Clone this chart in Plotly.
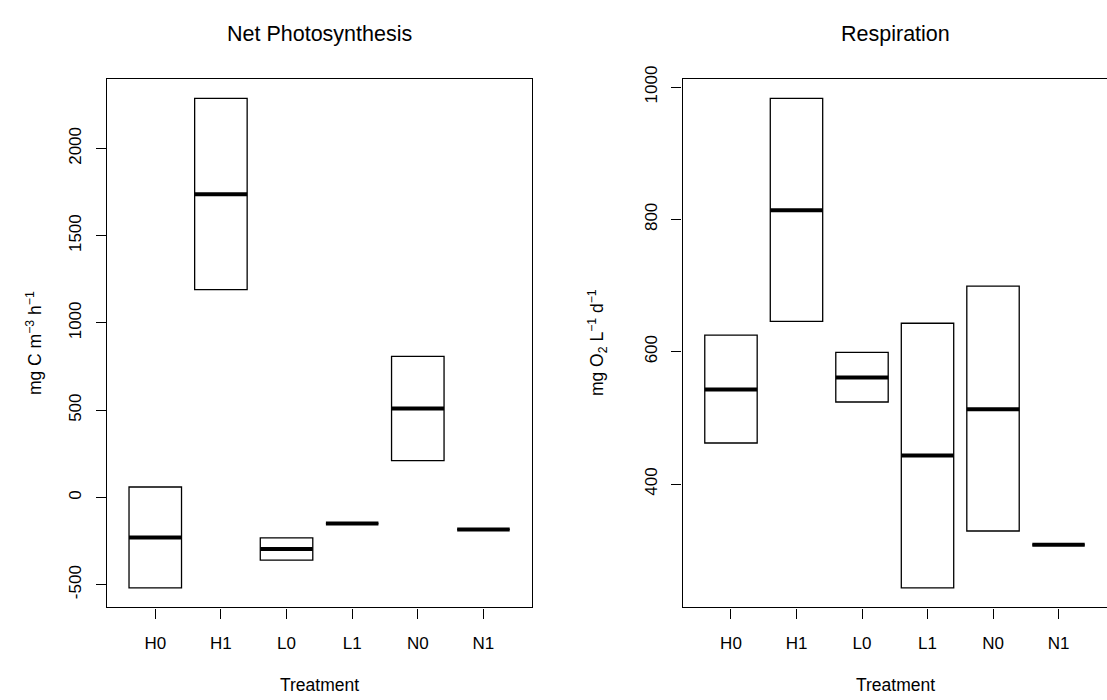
import plotly.graph_objects as go

# Treatments and box statistics (low / median / high) per panel
treatments = ["H0", "H1", "L0", "L1", "N0", "N1"]

photo_low = [-518, 1191, -359, -149, 211, -183]
photo_median = [-229, 1737, -295, -149, 510, -183]
photo_high = [60, 2287, -231, -149, 809, -183]

resp_low = [462, 646, 524, 243, 329, 308]
resp_median = [543, 814, 561, 443, 513, 308]
resp_high = [625, 983, 599, 643, 699, 308]

photo_ticks = [-500, 0, 500, 1000, 1500, 2000]
resp_ticks = [400, 600, 800, 1000]

W, H = 1107, 700
FONT = "Liberation Sans, Arial, Helvetica, sans-serif"
BOX_W = 0.8
positions = list(range(1, len(treatments) + 1))


def padded(lo, hi, frac=0.04):
    span = hi - lo
    return [lo - frac * span, hi + frac * span]


def tick_text(vals):
    # plain hyphen for negatives, as in base graphics
    return [str(v) for v in vals]


def median_segments(meds):
    xs, ys = [], []
    for p, m in zip(positions, meds):
        xs += [p - BOX_W / 2, p + BOX_W / 2, None]
        ys += [m, m, None]
    return xs, ys


fig = go.Figure()

panels = [
    ("x", "y", photo_low, photo_median, photo_high),
    ("x2", "y2", resp_low, resp_median, resp_high),
]
for xa, ya, lo, med, hi in panels:
    fig.add_trace(go.Bar(
        x=positions, base=lo, y=[h - l for h, l in zip(hi, lo)],
        width=BOX_W, xaxis=xa, yaxis=ya,
        marker=dict(color="white", line=dict(color="black", width=1.3)),
        hoverinfo="skip", showlegend=False,
    ))
    mx, my = median_segments(med)
    fig.add_trace(go.Scatter(
        x=mx, y=my, mode="lines", xaxis=xa, yaxis=ya,
        line=dict(color="black", width=4), hoverinfo="skip", showlegend=False,
    ))

x_common = dict(
    range=[0.26, len(treatments) + 0.74], tickvals=positions, ticktext=treatments,
    ticks="outside", ticklen=10, tickwidth=1.3, tickcolor="black",
    showline=True, mirror=True, linecolor="black", linewidth=1.3,
    showgrid=False, zeroline=False, ticklabelstandoff=10,
    tickfont=dict(family=FONT, size=17, color="black"),
)
y_common = dict(
    ticks="outside", ticklen=10, tickwidth=1.3, tickcolor="black",
    showline=True, linecolor="black", linewidth=1.3,
    showgrid=False, zeroline=False, tickangle=-90, ticklabelstandoff=8,
    tickfont=dict(family=FONT, size=17, color="black"),
)

y_dom = [1 - 605.7 / H, 1 - 67 / H]
left_dom = [106.7 / W, 532 / W]
right_dom = [682.5 / W, 1.0]

fig.update_layout(
    width=W, height=H, margin=dict(l=0, r=0, t=0, b=0),
    paper_bgcolor="white", plot_bgcolor="white",
    barmode="overlay", showlegend=False,
    font=dict(family=FONT, color="black"),
    xaxis=dict(domain=left_dom, anchor="y", **x_common),
    yaxis=dict(domain=y_dom, anchor="x", mirror=True,
               range=padded(min(photo_low), max(photo_high)),
               tickvals=photo_ticks, ticktext=tick_text(photo_ticks), **y_common),
    xaxis2=dict(domain=right_dom, anchor="y2", **x_common),
    # the right panel's far edge runs off the page, so no right-hand border
    yaxis2=dict(domain=y_dom, anchor="x2", mirror=False,
                range=padded(min(resp_low), max(resp_high)),
                tickvals=resp_ticks, ticktext=tick_text(resp_ticks), **y_common),
)

left_c = (left_dom[0] + left_dom[1]) / 2
right_c = (right_dom[0] + 1107.5 / W) / 2
mid_y = (y_dom[0] + y_dom[1]) / 2

annotations = [
    dict(text="Net Photosynthesis", x=left_c, y=1 - 21 / H, size=21.5),
    dict(text="Respiration", x=right_c, y=1 - 21 / H, size=21.5),
    dict(text="Treatment", x=left_c, y=1 - 685 / H, size=17.5),
    dict(text="Treatment", x=right_c, y=1 - 685 / H, size=17.5),
    dict(text="mg C m<sup>−3</sup> h<sup>−1</sup>", x=34 / W, y=mid_y, size=17.5, angle=-90),
    dict(text="mg O<sub>2</sub> L<sup>−1</sup> d<sup>−1</sup>", x=597 / W, y=mid_y, size=17.5, angle=-90),
]
for a in annotations:
    fig.add_annotation(
        text=a["text"], x=a["x"], y=a["y"], xref="paper", yref="paper",
        xanchor="center", yanchor="middle", showarrow=False,
        textangle=a.get("angle", 0),
        font=dict(family=FONT, size=a["size"], color="black"),
    )

fig.write_html("out.html")
